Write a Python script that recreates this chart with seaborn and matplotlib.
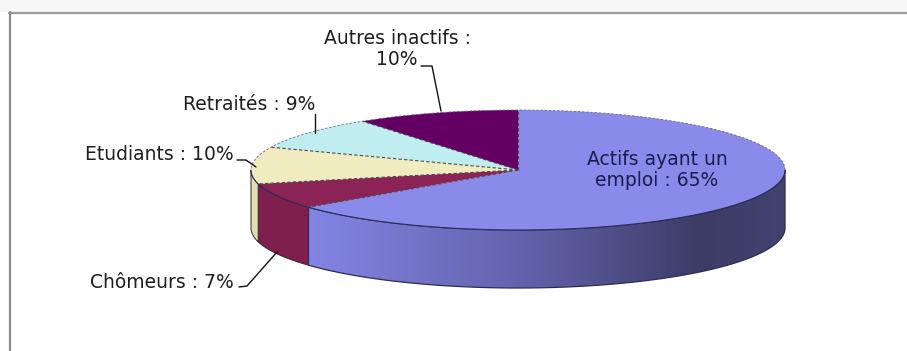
import numpy as np
import pandas as pd
import matplotlib
matplotlib.use("Agg")
import matplotlib.pyplot as plt
from matplotlib.patches import Polygon, Rectangle
import seaborn as sns

# Population by activity type (shares in %)
categories = ["Actifs ayant un emploi", "Chômeurs", "Etudiants", "Retraités", "Autres inactifs"]
shares = [65, 7, 10, 9, 10]
labels = ["Actifs ayant un\nemploi : 65%", "Chômeurs : 7%", "Etudiants : 10%",
          "Retraités : 9%", "Autres inactifs :\n10%"]
top_colors = ["#8a8aea", "#8c2356", "#f1ecc0", "#c0eef0", "#640064"]
side_colors = ["#8080d8", "#7e1f4d", "#e2dcae", "#acdede", "#560056"]

sns.set_theme(style="white")
plt.rcParams["font.family"] = ["DejaVu Sans"]

df = pd.DataFrame({"category": categories, "share": shares,
                   "label": labels, "top": top_colors, "side": side_colors})

W, H = 907, 351
fig = plt.figure(figsize=(W / 100, H / 100), dpi=100)
ax = fig.add_axes([0, 0, 1, 1])
ax.set_xlim(0, W)
ax.set_ylim(H, 0)
ax.axis("off")

# page band and frame
ax.add_patch(Rectangle((0, 0), W, 12, facecolor="#f7f7f7", edgecolor="none", zorder=0))
ax.plot([9, W], [12.5, 12.5], color="#9a9a9a", lw=1.6, zorder=1)
ax.plot([9.5, 9.5], [12, H], color="#8a8a8a", lw=1.6, zorder=1)

# elliptical 3-D pie geometry
cx, cy = 518, 170
a, b = 267, 60
depth = 58


def rim(t_deg, dy=0.0):
    t = np.radians(t_deg)
    return cx + a * np.cos(t), cy - b * np.sin(t) + dy


# slice angles: start at 12 o'clock, run clockwise
fractions = df["share"] / df["share"].sum()
ends = 90 - 360 * fractions.cumsum()
starts = np.r_[90, ends.values[:-1]]
df["start"] = starts
df["end"] = ends.values

# side walls (front half of the cylinder only)
for i, row in df.iterrows():
    for k in (-360, 0, 360):
        lo = max(row["end"] + k, -180)
        hi = min(row["start"] + k, 0)
        if hi <= lo:
            continue
        ts = np.linspace(lo, hi, 120)
        upper = [rim(t) for t in ts]
        lower = [rim(t, depth) for t in ts[::-1]]
        pts = np.array(upper + lower)
        if i == 0:
            poly = Polygon(pts, closed=True, facecolor="none",
                           edgecolor="#2c2c58", lw=0.9, zorder=3)
            ax.add_patch(poly)
            # shaded wall: light on the left, dark to the right
            xs = np.linspace(0, 1, 400)
            stops_x = [0.0, 0.45, 0.82, 1.0]
            stops_c = [np.array(c) / 255 for c in
                       [(132, 132, 228), (98, 98, 172), (60, 60, 102), (66, 66, 112)]]
            grad = np.zeros((1, len(xs), 3))
            for ch in range(3):
                grad[0, :, ch] = np.interp(xs, stops_x, [c[ch] for c in stops_c])
            x0, x1 = pts[:, 0].min(), pts[:, 0].max()
            y0, y1 = pts[:, 1].min(), pts[:, 1].max()
            im = ax.imshow(grad, extent=(x0, x1, y1, y0), aspect="auto",
                           interpolation="bilinear", zorder=2)
            im.set_clip_path(poly)
        else:
            ax.add_patch(Polygon(pts, closed=True, facecolor=row["side"],
                                 edgecolor="#3a2030", lw=0.7, zorder=2))

# top face
for i, row in df.iterrows():
    ts = np.linspace(row["start"], row["end"], 200)
    pts = np.array([(cx, cy)] + [rim(t) for t in ts])
    ax.add_patch(Polygon(pts, closed=True, facecolor=row["top"],
                         edgecolor="none", zorder=4))
# slice separators on the top face
for t in df["start"]:
    x, y = rim(t)
    ax.plot([cx, x], [cy, y], color="#4a4a4a", lw=0.8,
            ls=(0, (3, 2)), zorder=5)
# rim of the top face
ts = np.linspace(-180, 0, 200)
rp = np.array([rim(t) for t in ts])
ax.plot(rp[:, 0], rp[:, 1], color="#2c2c58", lw=0.8, zorder=5)
ts = np.linspace(0, 180, 200)
rp = np.array([rim(t) for t in ts])
ax.plot(rp[:, 0], rp[:, 1], color="#6a6a8a", lw=0.6, ls=(0, (3, 2)), zorder=5)

# labels
fs = 13.5
txt = "#1e1e1e"
ax.text(657, 170, df.loc[0, "label"], ha="center", va="center", fontsize=fs,
        color="#1c1c4c", linespacing=1.15, zorder=6)
ax.text(397, 49, df.loc[4, "label"], ha="center", va="center", fontsize=fs,
        color=txt, linespacing=1.1, zorder=6)
ax.text(249, 104, df.loc[3, "label"], ha="center", va="center", fontsize=fs,
        color=txt, zorder=6)
ax.text(234, 155, df.loc[2, "label"], ha="right", va="center", fontsize=fs,
        color=txt, zorder=6)
ax.text(234, 283, df.loc[1, "label"], ha="right", va="center", fontsize=fs,
        color=txt, zorder=6)

# leader lines
lc = dict(color="#111111", lw=1.0, zorder=6)
ax.plot([421, 432, 441], [66, 66, 111], **lc)
ax.plot([315, 315], [114, 133], **lc)
ax.plot([237, 246, 256], [160, 160, 167], **lc)
ax.plot([239, 247, 277], [287, 286, 252], **lc)

fig.savefig("out.png", dpi=100)
